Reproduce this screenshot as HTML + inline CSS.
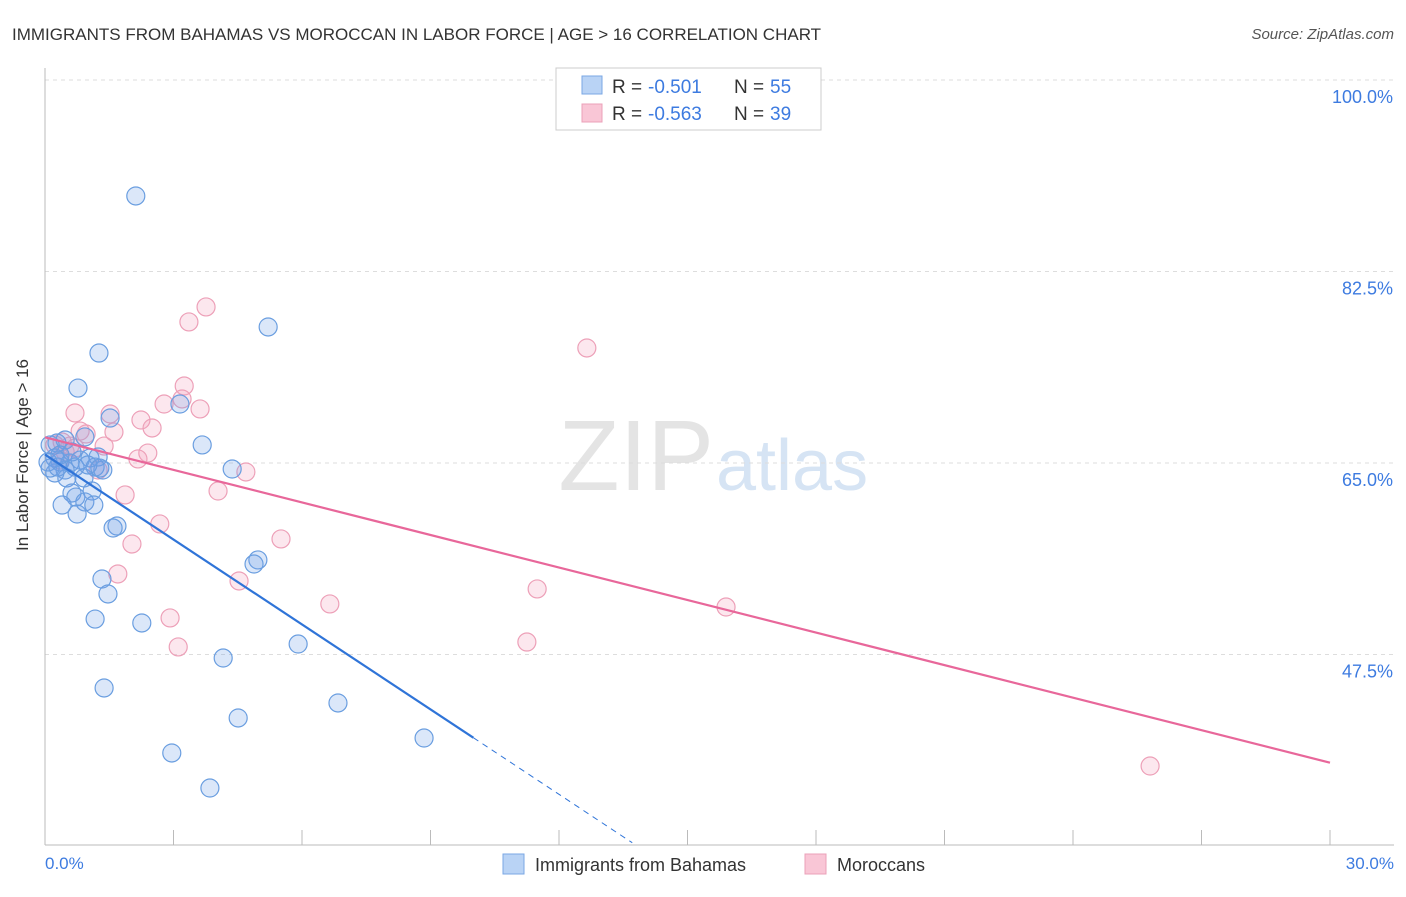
<!DOCTYPE html>
<html><head><meta charset="utf-8"><style>
body{margin:0;background:#fff;font-family:"Liberation Sans",sans-serif}
svg text{font-family:"Liberation Sans",sans-serif}
</style></head><body>
<svg id="chart" width="1406" height="892" xmlns="http://www.w3.org/2000/svg">
<text x="12" y="40" font-size="17" fill="#333">IMMIGRANTS FROM BAHAMAS VS MOROCCAN IN LABOR FORCE | AGE &gt; 16 CORRELATION CHART</text>
<text x="1394" y="39" font-size="15" fill="#555" text-anchor="end" font-style="italic">Source: ZipAtlas.com</text>
<text x="714" y="490" font-size="100" fill="#e4e4e4" text-anchor="end" font-family="Liberation Serif">ZIP</text>
<text x="716" y="490" font-size="72" fill="#d6e4f4">atlas</text>
<g id="grid"></g>
<line x1="45" y1="68" x2="45" y2="845" stroke="#bbb"/>
<line x1="45" y1="845" x2="1394" y2="845" stroke="#bbb"/>
<text x="28" y="455" font-size="17" fill="#333" text-anchor="middle" transform="rotate(-90 28 455)">In Labor Force | Age &gt; 16</text>
<text x="45" y="869" font-size="17" fill="#3d7be0">0.0%</text>
<text x="1394" y="869" font-size="17" fill="#3d7be0" text-anchor="end">30.0%</text>
<g id="marks"></g>
<g>
<rect x="556" y="68" width="265" height="62" fill="#fff" stroke="#ccc"/>
<rect x="582" y="76" width="20" height="18" fill="#b9d3f5" stroke="#7aa7e4"/>
<rect x="582" y="104" width="20" height="18" fill="#f9c6d6" stroke="#eba0b8"/>
<text x="612" y="93" font-size="19" fill="#333">R =</text><text x="648" y="93" font-size="19" fill="#3d7be0">-0.501</text>
<text x="734" y="93" font-size="19" fill="#333">N =</text><text x="770" y="93" font-size="19" fill="#3d7be0">55</text>
<text x="612" y="120" font-size="19" fill="#333">R =</text><text x="648" y="120" font-size="19" fill="#3d7be0">-0.563</text>
<text x="734" y="120" font-size="19" fill="#333">N =</text><text x="770" y="120" font-size="19" fill="#3d7be0">39</text>
</g>
<g>
<rect x="503" y="854" width="21" height="20" fill="#b9d3f5" stroke="#7aa7e4"/>
<text x="535" y="871" font-size="18" fill="#333">Immigrants from Bahamas</text>
<rect x="805" y="854" width="21" height="20" fill="#f9c6d6" stroke="#eba0b8"/>
<text x="837" y="871" font-size="18" fill="#333">Moroccans</text>
</g>
</svg>
<script>
const yTicks=[100,82.5,65,47.5];
const yTickLabels=["100.0%","82.5%","65.0%","47.5%"];
const xTicks=[0,3,6,9,12,15,18,21,24,27,30];
const bahamasPx=[[136,196],[268,327],[99,353],[78,388],[180,404],[110,418],[202,445],[232,469],[85,437],[65,440],[50,445],[55,458],[60,462],[70,463],[80,460],[90,458],[98,457],[103,470],[95,467],[75,467],[65,470],[55,473],[50,468],[67,478],[84,478],[92,491],[72,493],[76,497],[85,502],[94,505],[62,505],[77,514],[117,526],[113,528],[258,560],[254,564],[102,579],[108,594],[95,619],[142,623],[298,644],[223,658],[104,688],[338,703],[238,718],[424,738],[172,753],[210,788],[57,443],[48,462],[58,467],[88,465],[72,452],[60,455],[100,468]];
const moroccanPx=[[206,307],[189,322],[587,348],[184,386],[182,399],[164,404],[200,409],[75,413],[110,414],[141,420],[114,432],[152,428],[80,431],[86,434],[104,446],[62,442],[70,446],[148,453],[138,459],[246,472],[98,470],[218,491],[125,495],[160,524],[132,544],[281,539],[118,574],[239,581],[330,604],[537,589],[726,607],[170,618],[178,647],[527,642],[1150,766],[55,445],[65,452],[60,460],[75,448]];
const bahamasX=bahamasPx.map(p=>+((p[0]-45)/1285*30).toFixed(2));
const bahamasY=bahamasPx.map(p=>+(100-(p[1]-80)/10.943).toFixed(2));
const moroccanX=moroccanPx.map(p=>+((p[0]-45)/1285*30).toFixed(2));
const moroccanY=moroccanPx.map(p=>+(100-(p[1]-80)/10.943).toFixed(2));
const bahamasSolidEnd=10;
const NS="http://www.w3.org/2000/svg";
const xs=v=>45+v/30*1285, ys=v=>80+(100-v)*10.943;
const grid=document.getElementById('grid'), marks=document.getElementById('marks');
function mk(tag,attrs,parent){const e=document.createElementNS(NS,tag);for(const k in attrs)e.setAttribute(k,attrs[k]);parent.appendChild(e);return e;}
yTicks.forEach((t,i)=>{
 const l=mk('line',{x1:45,x2:1394,y1:ys(t),y2:ys(t),stroke:'#ddd','stroke-dasharray':'4,4'},grid);
 
 
 const tx=mk('text',{x:1393,y:ys(t)+23,'font-size':18,fill:'#3d7be0','text-anchor':'end'},grid);
 tx.textContent=yTickLabels[i];
 
 
});
xTicks.forEach(t=>{
 const l=mk('line',{x1:xs(t),x2:xs(t),y1:830,y2:845,stroke:'#bbb'},grid);
 
 
});
function draw(X,Y,fill,stroke,name){
 X.forEach((x,i)=>{
  const c=mk('circle',{cx:xs(x),cy:ys(Y[i]),r:9,fill:fill,stroke:stroke,'stroke-width':1.2},marks);
  
  
 });
}
function reg(X,Y){const n=X.length,mx=X.reduce((a,b)=>a+b)/n,my=Y.reduce((a,b)=>a+b)/n;let sxy=0,sxx=0;X.forEach((x,i)=>{sxy+=(x-mx)*(Y[i]-my);sxx+=(x-mx)**2});const b=sxy/sxx;return[my-b*mx,b];}
draw(moroccanX,moroccanY,'rgba(244,160,188,0.25)','#eda0b8','moroccan-point');
draw(bahamasX,bahamasY,'rgba(110,160,230,0.25)','#6a9ee0','bahamas-point');
const [ma,mb]=reg(moroccanX,moroccanY);
let l=mk('line',{x1:xs(0),y1:ys(ma),x2:xs(30),y2:ys(ma+mb*30),stroke:'#e8679a','stroke-width':2.2},marks);


const [ba,bb]=reg(bahamasX,bahamasY);
const xe=bahamasSolidEnd;
l=mk('line',{x1:xs(0),y1:ys(ba),x2:xs(xe),y2:ys(ba+bb*xe),stroke:'#2f74d8','stroke-width':2.2},marks);


const xz=Math.min(30,(ba-30.3)/(-bb));
l=mk('line',{x1:xs(xe),y1:ys(ba+bb*xe),x2:xs(xz),y2:ys(ba+bb*xz),stroke:'#2f74d8','stroke-width':1,'stroke-dasharray':'6,5'},marks);


</script>
</body></html>
